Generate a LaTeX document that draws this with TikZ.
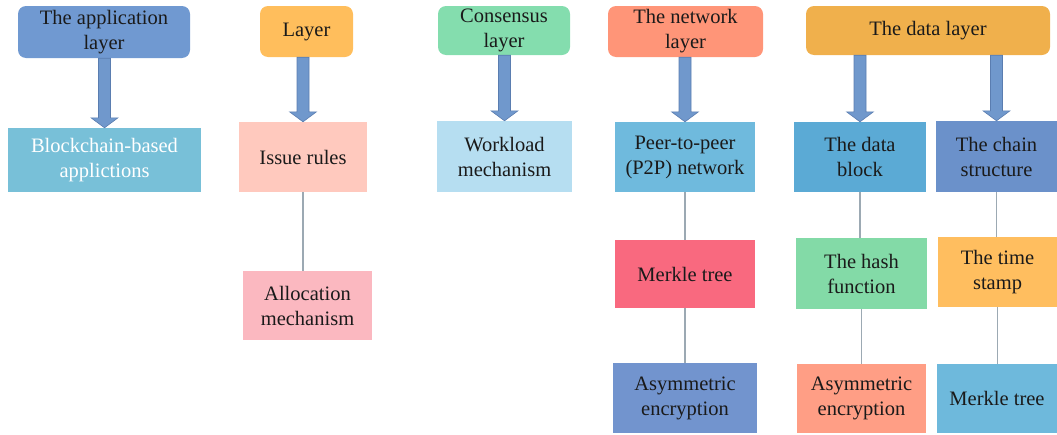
\documentclass[tikz,border=0pt]{standalone}
\usepackage{fontspec}
\newfontfamily\serifface{Liberation Serif}
\usetikzlibrary{calc}

\definecolor{appH}{HTML}{7099D1}
\definecolor{layH}{HTML}{FFBE5C}
\definecolor{conH}{HTML}{84DDAE}
\definecolor{netH}{HTML}{FF9578}
\definecolor{datH}{HTML}{F0B04C}
\definecolor{arrowBlue}{HTML}{7098CC}
\definecolor{arrowEdge}{HTML}{5A7DB0}
\definecolor{bcaC}{HTML}{78C0D8}
\definecolor{issueC}{HTML}{FFC9BE}
\definecolor{workC}{HTML}{B6DEF1}
\definecolor{ppC}{HTML}{6FBADD}
\definecolor{dblockC}{HTML}{5BAAD5}
\definecolor{chainC}{HTML}{6B91CA}
\definecolor{allocC}{HTML}{FBB8C0}
\definecolor{merkA}{HTML}{F9697F}
\definecolor{hashC}{HTML}{83DAA7}
\definecolor{timeC}{HTML}{FFBE5F}
\definecolor{asymA}{HTML}{7294CE}
\definecolor{asymB}{HTML}{FF9E85}
\definecolor{merkB}{HTML}{6EB9DC}
\definecolor{lineGrey}{HTML}{9CA9B3}
\definecolor{ink}{HTML}{1A1A1A}

\newcommand\lbl{\serifface\fontsize{20.5}{25}\selectfont}

\tikzset{
  head/.style={rounded corners=8pt, inner sep=0pt, align=center, font=\lbl, text=ink},
  card/.style={inner sep=0pt, align=center, font=\lbl, text=ink},
  link/.style={draw=lineGrey, line width=1.5pt},
  bigarrow/.style={fill=arrowBlue, draw=arrowEdge, line width=0.6pt}
}

% block arrow from the bottom of a header down to the top of a child box
\newcommand\blockarrow[2]{%
  \path[bigarrow] let \p1=(#1.south -| #2.north), \p2=(#2.north) in
    (\x1-6pt,\y1) -- (\x1+6pt,\y1) -- (\x1+6pt,\y2+10pt) -- (\x1+13.5pt,\y2+10pt)
    -- (\x1,\y2) -- (\x1-13.5pt,\y2+10pt) -- (\x1-6pt,\y2+10pt) -- cycle;}

\begin{document}
\begin{tikzpicture}[x=1pt,y=-1pt]
\useasboundingbox (0,0) rectangle (1057,434);

% layer headers
\node[head, fill=appH, minimum width=172pt, minimum height=52pt] (app) at (104,32) {The application\\layer};
\node[head, fill=layH, minimum width=93pt, minimum height=51pt] (lay) at (306.5,31.5) {Layer};
\node[head, fill=conH, minimum width=132pt, minimum height=49pt] (con) at (504,30.5) {Consensus\\layer};
\node[head, fill=netH, minimum width=155pt, minimum height=51pt] (net) at (685.5,31.5) {The network\\layer};
\node[head, fill=datH, minimum width=244pt, minimum height=49pt] (dat) at (928,30.5) {The data layer};

% second row
\node[card, fill=bcaC, text=white, minimum width=193pt, minimum height=64pt] (bca) at (104.5,160) {Blockchain-based\\applictions};
\node[card, fill=issueC, minimum width=128pt, minimum height=70pt] (issue) at (303,157) {Issue rules};
\node[card, fill=workC, minimum width=135pt, minimum height=71pt] (work) at (504.5,156.5) {Workload\\mechanism};
\node[card, fill=ppC, minimum width=140pt, minimum height=70pt] (p2p) at (685,157) {Peer-to-peer\\(P2P) network};
\node[card, fill=dblockC, minimum width=132pt, minimum height=70pt] (dblock) at (860,157) {The data\\block};
\node[card, fill=chainC, minimum width=121pt, minimum height=71pt] (chain) at (996.5,156.5) {The chain\\structure};

% third row
\node[card, fill=allocC, minimum width=129pt, minimum height=69pt] (alloc) at (307.5,305.5) {Allocation\\mechanism};
\node[card, fill=merkA, minimum width=140pt, minimum height=68pt] (merkA) at (685,274) {Merkle tree};
\node[card, fill=hashC, minimum width=131pt, minimum height=71pt] (hash) at (861.5,273.5) {The hash\\function};
\node[card, fill=timeC, minimum width=119pt, minimum height=70pt] (time) at (997.5,272) {The time\\stamp};

% fourth row
\node[card, fill=asymA, minimum width=144pt, minimum height=70pt] (asymA) at (685,398) {Asymmetric\\encryption};
\node[card, fill=asymB, minimum width=129pt, minimum height=69pt] (asymB) at (861.5,398.5) {Asymmetric\\encryption};
\node[card, fill=merkB, minimum width=120pt, minimum height=69pt] (merkB) at (997,398.5) {Merkle tree};

% block arrows
\blockarrow{app}{bca}
\blockarrow{lay}{issue}
\blockarrow{con}{work}
\blockarrow{net}{p2p}
\blockarrow{dat}{dblock}
\blockarrow{dat}{chain}

% thin links
\draw[link] (issue.south) -- (issue.south |- alloc.north);
\draw[link] (p2p.south) -- (p2p.south |- merkA.north);
\draw[link] (merkA.south) -- (merkA.south |- asymA.north);
\draw[link] (dblock.south) -- (dblock.south |- hash.north);
\draw[link] (hash.south) -- (hash.south |- asymB.north);
\draw[link] (chain.south) -- (chain.south |- time.north);
\draw[link] (time.south) -- (time.south |- merkB.north);
\end{tikzpicture}
\end{document}
